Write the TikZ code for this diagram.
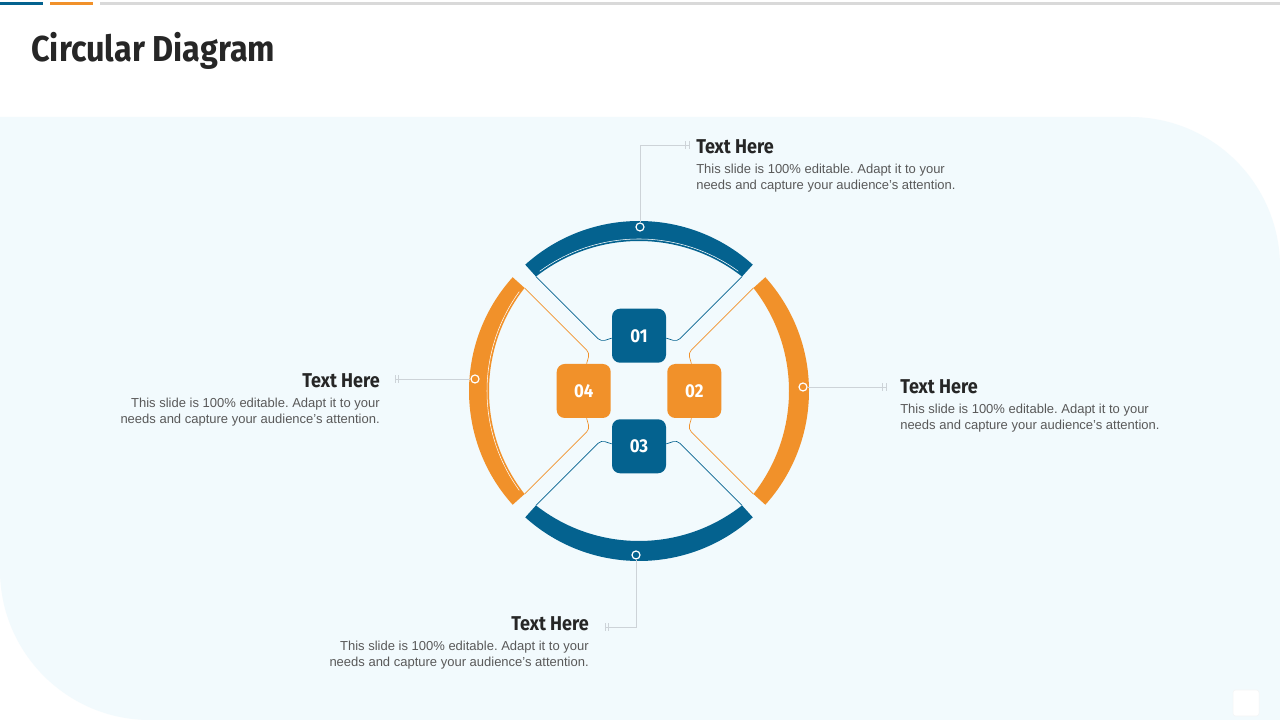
\documentclass[tikz,border=0pt]{standalone}
\usepackage{fontspec}
\setmainfont{Liberation Sans}
\newfontfamily\headfont{Fira Sans}[FakeStretch=0.9]
\usepackage{xcolor}
\usepackage{tikz}
\usetikzlibrary{positioning, calc}
\definecolor{ringblue}{HTML}{04628F}
\definecolor{ringorange}{HTML}{F1912A}
\definecolor{panelcolor}{HTML}{F2FAFD}
\definecolor{leadgray}{HTML}{CDD3D8}
\definecolor{bodygray}{HTML}{595959}
\definecolor{headgray}{HTML}{262626}
\frenchspacing

\begin{document}
\begin{tikzpicture}[
    x=0.75pt, y=0.75pt,
    numbox/.style={rounded corners=6pt, minimum size=40.5pt, inner sep=0pt, text=white, font=\headfont\bfseries\fontsize{14}{14}\selectfont},
    head/.style={inner sep=0pt, text=headgray, font=\headfont\bfseries\fontsize{15}{15}\selectfont},
    desc/.style={inner sep=0pt, text=bodygray, font=\fontsize{9.75}{12}\selectfont},
    lead/.style={leadgray, line width=0.6pt},
    spoke/.style={line width=0.5pt, rounded corners=3pt},
    marker/.style={circle, draw=white, line width=0.9pt, minimum size=6pt, inner sep=0pt}
]
    % Slide background
    \useasboundingbox (0,0) rectangle (1280,720);
    \fill[white] (0,0) rectangle (1280,720);
    \fill[panelcolor] (0,603) -- (1130,603) arc[start angle=90, end angle=0, radius=150]
        -- (1280,0) -- (150,0) arc[start angle=270, end angle=180, radius=150] -- cycle;
    \draw[ringblue, line width=2.25pt] (0,716) -- (43,716);
    \draw[ringorange, line width=2.25pt] (50,716) -- (93,716);
    \draw[black!15, line width=2.25pt] (100,716) -- (1280,716);
    \node[fill=white, draw=black!4, rounded corners=2pt, minimum size=19.5pt, inner sep=0pt] (corner) at (1246,17) {};

    % Title
    \node[head, anchor=west, font=\headfont\bfseries\fontsize{27}{27}\selectfont] (title) at (31,669) {Circular Diagram};

    % Ring of four arcs
    \coordinate (ctr) at (639,329);
    \foreach \ang/\col/\glint in {90/ringblue/1, 0/ringorange/0, 270/ringblue/0, 180/ringorange/1}{
        \begin{scope}[shift={(ctr)}, rotate=\ang]
            \fill[\col] (-42:170) arc[start angle=-42, end angle=42, radius=170]
                -- ([shift={(-17,0)}]38.1:167) arc[start angle=38.1, end angle=-38.1, radius=167] -- cycle;
            \draw[white, line width=0.4pt, draw opacity=\glint] ([shift={(-17,0)}]36:169) arc[start angle=36, end angle=-36, radius=169];
        \end{scope}
    }

    % Numbered boxes
    \node[numbox, fill=ringblue, above=21pt of ctr] (one) {01};
    \node[numbox, fill=ringorange, right=21pt of ctr] (two) {02};
    \node[numbox, fill=ringblue, below=21pt of ctr] (three) {03};
    \node[numbox, fill=ringorange, left=21pt of ctr] (four) {04};

    % Thin spokes from arc ends to boxes
    \foreach \ang/\dir/\tgt/\col in {132/-45/one.-175/ringblue, 48/-135/one.-5/ringblue,
        228/45/three.175/ringblue, 312/135/three.5/ringblue,
        138/-45/four.84/ringorange, 222/45/four.-84/ringorange,
        42/-135/two.96/ringorange, 318/135/two.-96/ringorange}{
        \draw[spoke, \col] ($(ctr)+(\ang:154)$) -- ++(\dir:92) -- (\tgt);
    }

    % Markers and leader lines
    \node[marker, fill=ringblue] (m1) at (640,493) {};
    \node[marker, fill=ringorange] (m2) at (803,333) {};
    \node[marker, fill=ringblue] (m3) at (636,165) {};
    \node[marker, fill=ringorange] (m4) at (475,341) {};
    \coordinate (e1) at (689,575);
    \coordinate (e2) at (886,333);
    \coordinate (e3) at (605,93);
    \coordinate (e4) at (395,341);
    \draw[lead] (m1) |- (e1);
    \draw[lead] (m2) -- (e2);
    \draw[lead] (m3) |- (e3);
    \draw[lead] (m4) -- (e4);
    \foreach \e/\s in {e1/-2.5, e2/-2.5, e3/2.5, e4/2.5}{
        \draw[lead] ([yshift=-3pt]\e) -- ([yshift=3pt]\e);
        \draw[lead] ([xshift=\s pt, yshift=-3pt]\e) -- ([xshift=\s pt, yshift=3pt]\e);
    }

    % Text blocks
    \node[head, anchor=west] (h1) at (696,573) {Text Here};
    \node[desc, anchor=north west, align=left] (d1) at ([yshift=-6.75pt]h1.south west) {This slide is 100\% editable. Adapt it to your\\needs and capture your audience's attention.};
    \node[head, anchor=west] (h2) at (900,333) {Text Here};
    \node[desc, anchor=north west, align=left] (d2) at ([yshift=-6.75pt]h2.south west) {This slide is 100\% editable. Adapt it to your\\needs and capture your audience's attention.};
    \node[head, anchor=east] (h3) at (589,96) {Text Here};
    \node[desc, anchor=north east, align=right] (d3) at ([yshift=-6.75pt]h3.south east) {This slide is 100\% editable. Adapt it to your\\needs and capture your audience's attention.};
    \node[head, anchor=east] (h4) at (380,339) {Text Here};
    \node[desc, anchor=north east, align=right] (d4) at ([yshift=-6.75pt]h4.south east) {This slide is 100\% editable. Adapt it to your\\needs and capture your audience's attention.};
\end{tikzpicture}
\end{document}
